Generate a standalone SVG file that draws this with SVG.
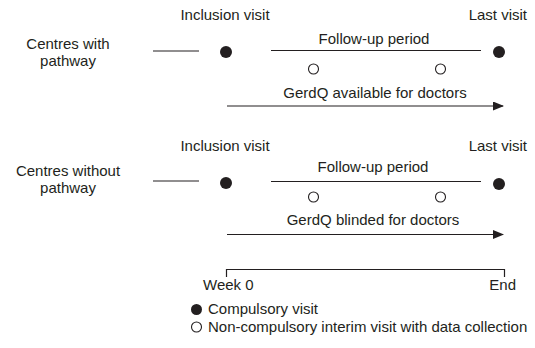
<svg xmlns="http://www.w3.org/2000/svg" width="535" height="348" viewBox="0 0 535 348">
<style>
text{font-family:"Liberation Sans",Arial,sans-serif;font-size:15px;fill:#231f20}
.m{text-anchor:middle}.e{text-anchor:end}
.ln{stroke:#231f20;stroke-width:1.2;fill:none}
.fd{fill:#231f20}
.od{fill:#fff;stroke:#231f20;stroke-width:1.1}
</style>
<defs>
<marker id="ah" markerWidth="11" markerHeight="9" refX="10" refY="4.5" orient="auto" markerUnits="userSpaceOnUse">
<path d="M0,0 L11,4.5 L0,9 Z" fill="#231f20"/>
</marker>
</defs>
<rect width="535" height="348" fill="#fff"/>
<g id="row1">
<text x="225" y="20" class="m">Inclusion visit</text>
<text x="527" y="20" class="e">Last visit</text>
<text x="68" y="49" class="m">Centres with</text>
<text x="68" y="66" class="m">pathway</text>
<text x="374" y="44" class="m">Follow-up period</text>
<text x="375" y="98" class="m">GerdQ available for doctors</text>
</g>
<g id="row2">
<text x="225" y="151" class="m">Inclusion visit</text>
<text x="527" y="151" class="e">Last visit</text>
<text x="68" y="175.5" class="m">Centres without</text>
<text x="68" y="192.5" class="m">pathway</text>
<text x="373" y="172" class="m">Follow-up period</text>
<text x="373" y="225" class="m">GerdQ blinded for doctors</text>
</g>
<g id="connectors">
<line class="ln" x1="153" y1="51" x2="199" y2="51"/>
<line class="ln" x1="271" y1="50.5" x2="481" y2="50.5"/>
<line class="ln" x1="227" y1="106" x2="503" y2="106" marker-end="url(#ah)"/>
<line class="ln" x1="153" y1="181" x2="199" y2="181"/>
<line class="ln" x1="271" y1="181.5" x2="481" y2="181.5"/>
<line class="ln" x1="227" y1="234.5" x2="503" y2="234.5" marker-end="url(#ah)"/>
<path class="ln" d="M226.5,277 V269.5 H504.5 V277"/>
</g>
<g id="visits">
<circle class="fd" cx="226" cy="52" r="6"/>
<circle class="fd" cx="499" cy="52" r="6"/>
<circle class="od" cx="313.5" cy="69" r="5"/>
<circle class="od" cx="440.5" cy="69" r="5"/>
<circle class="fd" cx="226" cy="183" r="6"/>
<circle class="fd" cx="499" cy="184" r="6"/>
<circle class="od" cx="313.5" cy="197" r="5"/>
<circle class="od" cx="440.5" cy="197" r="5"/>
</g>
<g id="axis">
<text x="203" y="290">Week 0</text>
<text x="516" y="290" class="e">End</text>
</g>
<g id="legend">
<circle class="fd" cx="196.5" cy="309.5" r="5.5"/>
<text x="208" y="314">Compulsory visit</text>
<circle class="od" cx="196.5" cy="327" r="5"/>
<text x="208" y="332">Non-compulsory interim visit with data collection</text>
</g>
</svg>
